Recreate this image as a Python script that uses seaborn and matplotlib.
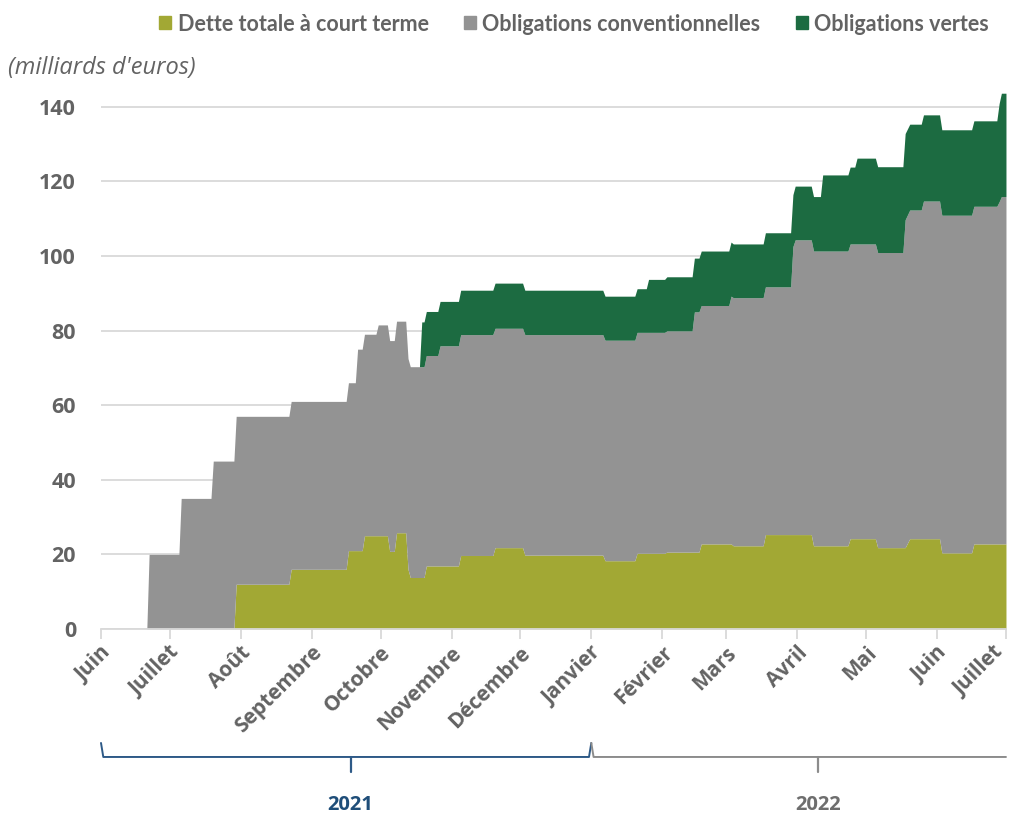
import matplotlib
matplotlib.use("Agg")
import matplotlib.pyplot as plt
import matplotlib.transforms as mtransforms
from matplotlib.patches import Patch
import seaborn as sns
import pandas as pd

# ---------------- data (milliards d'euros) ----------------
dates = [
    "2021-06-01", "2021-06-21", "2021-06-22", "2021-07-05", "2021-07-06", "2021-07-19",
    "2021-07-20", "2021-07-29", "2021-07-30", "2021-08-22", "2021-08-23", "2021-09-16",
    "2021-09-17", "2021-09-20", "2021-09-21", "2021-09-23", "2021-09-24", "2021-09-29",
    "2021-09-30", "2021-10-04", "2021-10-05", "2021-10-07", "2021-10-08", "2021-10-12",
    "2021-10-13", "2021-10-14", "2021-10-18", "2021-10-19", "2021-10-20", "2021-10-21",
    "2021-10-26", "2021-10-27", "2021-11-04", "2021-11-05", "2021-11-19", "2021-11-20",
    "2021-12-02", "2021-12-03", "2022-01-06", "2022-01-07", "2022-01-20", "2022-01-21",
    "2022-01-25", "2022-01-26", "2022-02-02", "2022-02-03", "2022-02-14", "2022-02-15",
    "2022-02-17", "2022-02-18", "2022-03-02", "2022-03-03", "2022-03-04", "2022-03-17",
    "2022-03-18", "2022-03-29", "2022-03-30", "2022-03-31", "2022-04-07", "2022-04-08",
    "2022-04-11", "2022-04-12", "2022-04-23", "2022-04-24", "2022-04-26", "2022-04-27",
    "2022-05-05", "2022-05-06", "2022-05-17", "2022-05-18", "2022-05-20", "2022-05-25",
    "2022-05-26", "2022-06-02", "2022-06-03", "2022-06-16", "2022-06-17", "2022-06-27",
    "2022-06-28", "2022-06-29", "2022-07-01",
]
short_term = [
    0, 0, 0, 0, 0, 0,
    0, 0, 12, 12, 16, 16,
    21, 21, 21, 21, 25, 25,
    25, 25, 20.8, 20.8, 25.8, 25.8,
    16, 13.8, 13.8, 13.8, 13.8, 16.9,
    16.9, 16.9, 16.9, 19.7, 19.7, 21.8,
    21.8, 19.8, 19.8, 18.3, 18.3, 20.3,
    20.3, 20.3, 20.3, 20.6, 20.6, 20.6,
    20.6, 22.8, 22.8, 22.8, 22.3, 22.3,
    25.3, 25.3, 25.3, 25.3, 25.3, 22.3,
    22.3, 22.3, 22.3, 24.2, 24.2, 24.2,
    24.2, 21.8, 21.8, 21.8, 24.2, 24.2,
    24.2, 24.2, 20.4, 20.4, 22.8, 22.8,
    22.8, 22.8, 22.8,
]
conventional = [
    0, 0, 20, 20, 35, 35,
    45, 45, 45, 45, 45, 45,
    45, 45, 54, 54, 54, 54,
    56.5, 56.5, 56.5, 56.5, 56.7, 56.7,
    56.5, 56.5, 56.5, 56.5, 56.5, 56.4,
    56.4, 59.0, 59.0, 59.2, 59.2, 58.8,
    58.8, 59.1, 59.1, 59.1, 59.1, 59.2,
    59.2, 59.2, 59.2, 59.3, 59.3, 64.4,
    64.4, 63.9, 63.9, 66.4, 66.5, 66.5,
    66.4, 66.4, 77.2, 79.0, 79.0, 79.0,
    79.0, 79.0, 79.0, 79.0, 79.0, 79.0,
    79.0, 79.1, 79.1, 87.9, 88.1, 88.1,
    90.5, 90.5, 90.5, 90.5, 90.5, 90.5,
    91.7, 93.1, 93.1,
]
green = [
    0, 0, 0, 0, 0, 0,
    0, 0, 0, 0, 0, 0,
    0, 0, 0, 0, 0, 0,
    0, 0, 0, 0, 0, 0,
    0, 0, 0, 12.0, 12.0, 11.8,
    11.8, 11.9, 11.9, 11.9, 11.9, 12.1,
    12.1, 11.9, 11.9, 11.8, 11.8, 11.7,
    11.7, 14.2, 14.2, 14.5, 14.5, 14.4,
    14.4, 14.6, 14.6, 14.5, 14.4, 14.4,
    14.5, 14.5, 13.9, 14.4, 14.4, 14.6,
    14.6, 20.4, 20.4, 20.6, 20.6, 23.0,
    23.0, 23.0, 23.0, 23.1, 23.0, 23.0,
    23.1, 23.1, 22.9, 22.9, 22.9, 22.9,
    26.3, 27.7, 27.7,
]
series_names = ["Dette totale à court terme", "Obligations conventionnelles", "Obligations vertes"]
month_starts = pd.date_range("2021-06-01", "2022-07-01", freq="MS")
month_labels = ["Juin", "Juillet", "Août", "Septembre", "Octobre", "Novembre", "Décembre",
                "Janvier", "Février", "Mars", "Avril", "Mai", "Juin", "Juillet"]
year_labels = ["2021", "2022"]
year_spans = [("2021-06-01", "2022-01-01"), ("2022-01-01", "2022-07-01")]
year_centers = ["2021-09-18", "2022-04-10"]
y_ticks = [0, 20, 40, 60, 80, 100, 120, 140]

# ---------------- style ----------------
colors = ["#A2A834", "#939393", "#1C6B41"]
text_grey = "#636363"
grid_grey = "#D9D9D9"
year_colors = ["#1F4E79", "#6E6E6E"]
bracket_colors = ["#2E5A87", "#8C8C8C"]
tick_font = ["Open Sans", "DejaVu Sans"]

sns.set_theme(style="white")
plt.rcParams["font.family"] = ["Lato", "DejaVu Sans"]

fig = plt.figure(figsize=(10.09, 8.14), dpi=100)
ax = fig.add_axes([0.1001, 0.2273, 0.8969, 0.6646])

x = pd.to_datetime(dates)
ax.stackplot(x, short_term, conventional, green, colors=colors,
             linewidth=0, labels=series_names)

ax.set_xlim(pd.Timestamp("2021-06-01"), pd.Timestamp("2022-07-01"))
ax.set_ylim(0, 145)

ax.set_axisbelow(True)
ax.yaxis.grid(True, color=grid_grey, linewidth=1.3)
ax.xaxis.grid(False)
sns.despine(ax=ax, left=True, top=True, right=True)
ax.spines["bottom"].set_color(grid_grey)
ax.spines["bottom"].set_linewidth(1.3)

ax.set_yticks(y_ticks)
ax.set_yticklabels([str(v) for v in y_ticks], fontsize=15.5, fontweight="bold",
                   color=text_grey, family=tick_font)
ax.tick_params(axis="y", length=0, pad=18)

ax.set_xticks(month_starts)
ax.set_xticklabels(month_labels, rotation=45, ha="right", va="center",
                   rotation_mode="anchor", fontsize=15, fontweight="bold",
                   color=text_grey, family=tick_font)
ax.tick_params(axis="x", length=7, width=1.3, color=grid_grey, pad=8, bottom=True)
labels = ax.get_xticklabels()
for i, lbl in enumerate(labels):
    dx = 7 if i < len(labels) - 1 else -6
    off = mtransforms.ScaledTranslation(dx / 100, 0, fig.dpi_scale_trans)
    lbl.set_transform(lbl.get_transform() + off)

# legend
handles = [Patch(facecolor=c, edgecolor=c) for c in colors]
leg = fig.legend(handles, series_names, loc="center", bbox_to_anchor=(0.569, 0.9705),
                 ncol=3, frameon=False, handlelength=0.55, handleheight=0.55,
                 handletextpad=0.3, columnspacing=1.65,
                 prop={"family": ["Lato", "DejaVu Sans"], "weight": "bold", "size": 15.5})
for t in leg.get_texts():
    t.set_color(text_grey)

fig.text(0.008, 1 - 68 / 814, "(milliards d'euros)", fontsize=17, fontstyle="italic",
         color=text_grey, va="center", ha="left", family=tick_font)

# year brackets
trans = mtransforms.blended_transform_factory(ax.transData, ax.transAxes)
y_top, y_line, y_tip, y_text = -0.2107, -0.2366, -0.2638, -0.325
d = pd.Timedelta(days=1)
s0, e0 = (pd.Timestamp(v) for v in year_spans[0])
ax.plot([s0, s0 + d, e0 - d, e0], [y_top, y_line, y_line, y_top], transform=trans,
        color=bracket_colors[0], lw=1.4, clip_on=False)
s1, e1 = (pd.Timestamp(v) for v in year_spans[1])
ax.plot([s1, s1 + d, e1], [y_top, y_line, y_line], transform=trans,
        color=bracket_colors[1], lw=1.4, clip_on=False)
for mid, c in zip(year_centers, bracket_colors):
    m = pd.Timestamp(mid)
    ax.plot([m, m], [y_line, y_tip], transform=trans, color=c, lw=1.6, clip_on=False)
for lab, mid, c in zip(year_labels, year_centers, year_colors):
    ax.text(pd.Timestamp(mid), y_text, lab, transform=trans, ha="center", va="center",
            fontsize=14.5, fontweight="bold", color=c, family=tick_font)

fig.savefig("out.png", dpi=100)
